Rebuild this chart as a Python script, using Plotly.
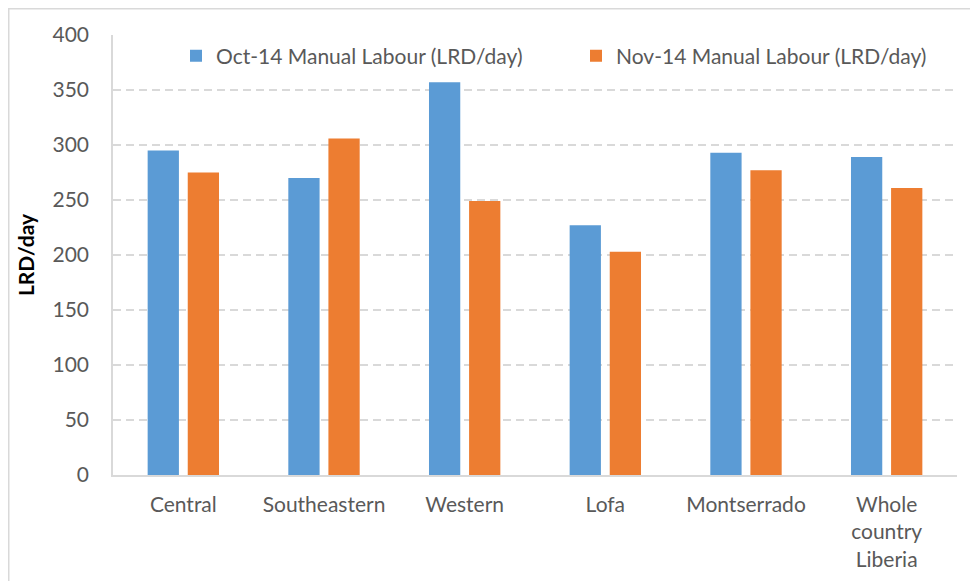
import plotly.graph_objects as go

categories = ["Central", "Southeastern", "Western", "Lofa", "Montserrado", "Whole<br>country<br>Liberia"]
oct_values = [295, 270, 357, 227, 293, 289]
nov_values = [275, 306, 249, 203, 277, 261]
series_names = ["Oct-14 Manual Labour (LRD/day)", "Nov-14 Manual Labour (LRD/day)"]
y_ticks = [0, 50, 100, 150, 200, 250, 300, 350, 400]

FONT = "Lato"
GREY = "#595959"
FS = 21

fig = go.Figure()
fig.add_trace(go.Bar(x=categories, y=oct_values, name=series_names[0],
                     marker=dict(color="#5B9BD5", line=dict(width=0))))
fig.add_trace(go.Bar(x=categories, y=nov_values, name=series_names[1],
                     marker=dict(color="#ED7D31", line=dict(width=0))))

# the page body adds an 8px offset
L, R, T, B = 105, 29, 27, 114
W, H = 978, 581
pw, ph = W - L - R, H - T - B

fig.update_layout(
    width=W, height=H,
    margin=dict(l=L, r=R, t=T, b=B, pad=0, autoexpand=False),
    paper_bgcolor="white", plot_bgcolor="white",
    barmode="group", bargap=0.43, bargroupgap=0.22,
    font=dict(family=FONT, size=FS, color=GREY),
    legend=dict(orientation="h", x=63 / pw, xanchor="left",
                y=1 - 21 / ph, yanchor="middle",
                font=dict(family=FONT, size=FS, color=GREY),
                bgcolor="rgba(0,0,0,0)", itemwidth=30, traceorder="normal",
                entrywidth=355),
    xaxis=dict(showline=True, linecolor="#d9d9d9", linewidth=1.5, automargin=False,
               ticks="", tickfont=dict(family=FONT, size=FS, color=GREY),
               ticklabelstandoff=10, showgrid=False),
    yaxis=dict(range=[0, 400], tickvals=y_ticks, showline=True, linecolor="#d9d9d9",
               linewidth=1.5, ticks="", ticklabelstandoff=18, automargin=False,
               showgrid=True, gridcolor="#d9d9d9", griddash="8px,5px", gridwidth=1.8,
               zeroline=False,
               tickfont=dict(family=FONT, size=FS, color=GREY),
               title=dict(text="<b>LRD/day</b>", font=dict(family=FONT, size=FS, color="black"),
                          standoff=12)),
    shapes=[dict(type="rect", xref="paper", yref="paper",
                 x0=(0.75 - L) / pw, x1=1.2, y0=-0.5, y1=(H - B - 0.75) / ph,
                 line=dict(color="#d9d9d9", width=1.5), layer="below")],
)

fig.write_html("out.html")
